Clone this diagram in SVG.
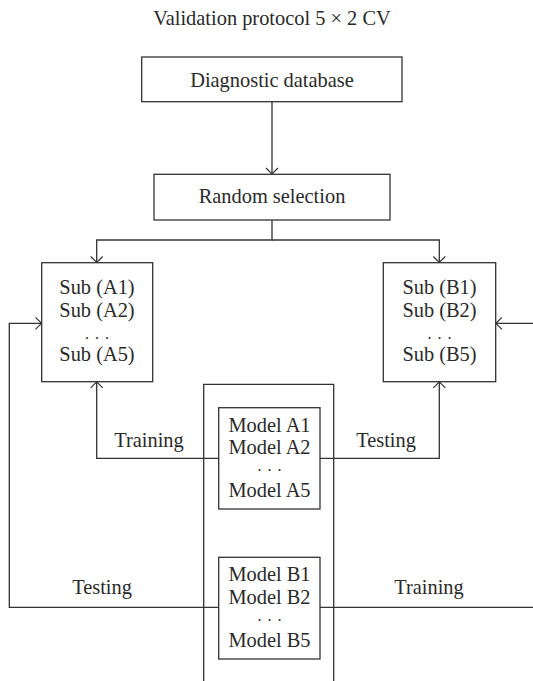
<svg xmlns="http://www.w3.org/2000/svg" width="533" height="681" viewBox="0 0 533 681">
<defs>
<marker id="arr" markerWidth="14" markerHeight="14" refX="7" refY="7" orient="auto" markerUnits="userSpaceOnUse">
<path d="M1,1 L7,7 L1,13" fill="none" stroke="#333" stroke-width="1.2"/>
</marker>
<style>
text{font-family:"Liberation Serif","Times New Roman",serif;font-size:20.4px;fill:#2a2a2a;text-anchor:middle}
text.dots{font-size:16px;letter-spacing:1px}
.box{fill:#fff;stroke:#333;stroke-width:1.3}
.con{fill:none;stroke:#333;stroke-width:1.3}
</style>
</defs>
<rect width="533" height="681" fill="#fff"/>
<text id="title" x="272" y="25">Validation protocol 5 × 2 CV</text>
<g id="container"><path class="con" d="M203.7,690 V384.3 H333.7 V690"/></g>
<g id="connectors">
<path class="con" d="M272,101.7 V174" marker-end="url(#arr)"/>
<path class="con" d="M272,220 V240 H96.7 V262.5" marker-end="url(#arr)"/>
<path class="con" d="M272,240 H439.3 V262.5" marker-end="url(#arr)"/>
<path class="con" d="M218.7,458.3 H96.7 V381.9" marker-end="url(#arr)"/>
<path class="con" d="M320,458.3 H439.3 V381.9" marker-end="url(#arr)"/>
<path class="con" d="M218.7,607.3 H9.3 V323.3 H41.5" marker-end="url(#arr)"/>
<path class="con" d="M320,607.3 H545 V323.3 H495.9" marker-end="url(#arr)"/>
<text x="149" y="447">Training</text>
<text x="386" y="447">Testing</text>
<text x="102" y="594">Testing</text>
<text x="429" y="594">Training</text>
</g>
<g id="diagnostic">
<rect class="box" x="141.7" y="57" width="260.3" height="44.7"/>
<text x="272" y="87">Diagnostic database</text>
</g>
<g id="random">
<rect class="box" x="154" y="174.3" width="236" height="45.7"/>
<text x="272" y="203">Random selection</text>
</g>
<g id="subA">
<rect class="box" x="41.7" y="262.7" width="111" height="119"/>
<text x="97" y="294">Sub (A1)</text>
<text x="97" y="317">Sub (A2)</text>
<text class="dots" x="97.5" y="339">. . .</text>
<text x="97" y="361">Sub (A5)</text>
</g>
<g id="subB">
<rect class="box" x="383.3" y="262.7" width="112.4" height="119"/>
<text x="439.5" y="294">Sub (B1)</text>
<text x="439.5" y="317">Sub (B2)</text>
<text class="dots" x="440" y="339">. . .</text>
<text x="439.5" y="361">Sub (B5)</text>
</g>
<g id="modelA">
<rect class="box" x="218.7" y="407.7" width="101.3" height="101.3"/>
<text x="269.5" y="432">Model A1</text>
<text x="269.5" y="454">Model A2</text>
<text class="dots" x="270" y="471">. . .</text>
<text x="269.5" y="497">Model A5</text>
</g>
<g id="modelB">
<rect class="box" x="218.7" y="557.3" width="101.3" height="101.7"/>
<text x="269.5" y="581">Model B1</text>
<text x="269.5" y="604">Model B2</text>
<text class="dots" x="270" y="621">. . .</text>
<text x="269.5" y="647">Model B5</text>
</g>
</svg>
